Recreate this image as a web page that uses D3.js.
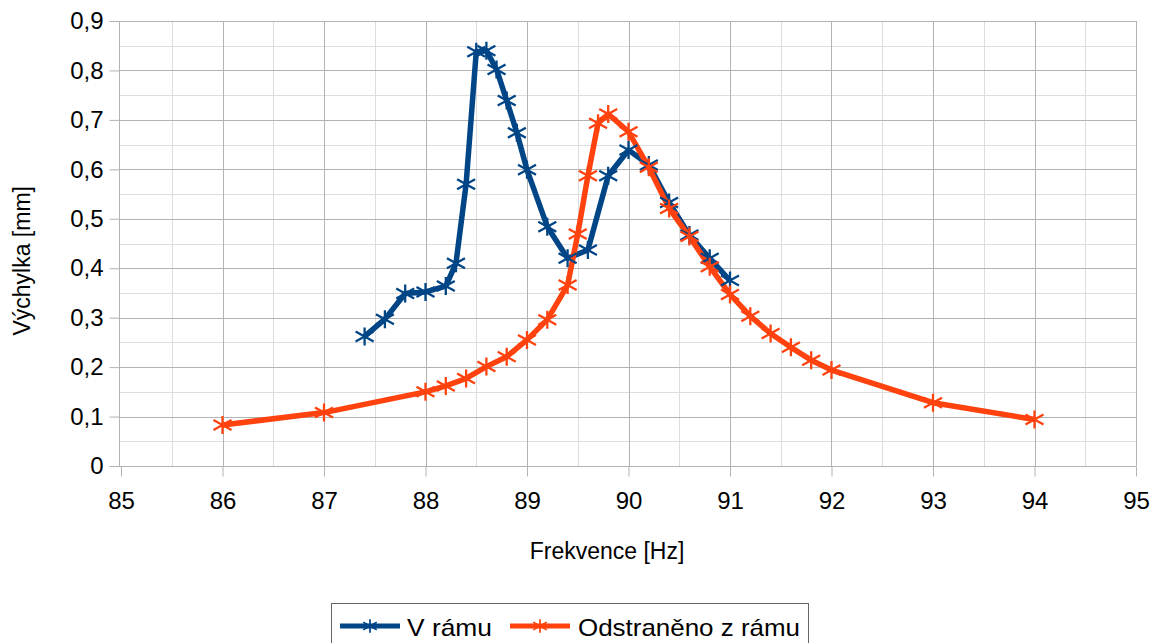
<!DOCTYPE html>
<html>
<head>
<meta charset="utf-8">
<script src="https://d3js.org/d3.v7.min.js"></script>
<style>
body { margin: 0; background: #fff; }
svg text { font-family: "Liberation Sans", Arial, sans-serif; fill: #000; }
</style>
</head>
<body>
<div id="chart"></div>
<script>
// V rámu
var frameX = [87.4, 87.6, 87.8, 88, 88.2, 88.3, 88.4, 88.5, 88.6, 88.7, 88.8, 88.9, 89, 89.2, 89.4, 89.6, 89.8, 90, 90.2, 90.4, 90.6, 90.8, 91];
var frameY = [0.262, 0.297, 0.349, 0.352, 0.364, 0.41, 0.57, 0.838, 0.84, 0.802, 0.739, 0.674, 0.599, 0.484, 0.42, 0.437, 0.587, 0.639, 0.609, 0.533, 0.467, 0.42, 0.375];
// Odstraněno z rámu
var freeX = [86, 87, 88, 88.2, 88.4, 88.6, 88.8, 89, 89.2, 89.4, 89.5, 89.6, 89.7, 89.8, 90, 90.2, 90.4, 90.6, 90.8, 91, 91.2, 91.4, 91.6, 91.8, 92, 93, 94];
var freeY = [0.083, 0.108, 0.150, 0.162, 0.177, 0.201, 0.221, 0.255, 0.296, 0.366, 0.469, 0.587, 0.693, 0.712, 0.676, 0.604, 0.521, 0.464, 0.403, 0.347, 0.303, 0.268, 0.240, 0.214, 0.194, 0.128, 0.094];

var seriesNames = ["V rámu", "Odstraněno z rámu"];
var seriesColors = ["#004586", "#ff420e"];

var W = 1154, H = 643;
var pL = 119, pR = 1136, pT = 21, pB = 466;

var svg = d3.select("#chart").append("svg").attr("width", W).attr("height", H);

var x = d3.scaleLinear().domain([85, 95]).range([pL + 2, pR]);
var y = d3.scaleLinear().domain([0, 0.9]).range([pB, pT]);

// minor grid
var g = svg.append("g");
g.selectAll("line.mx").data(d3.range(85.5, 95, 1)).enter().append("line")
  .attr("x1", d => Math.round(x(d)) + 0.5).attr("x2", d => Math.round(x(d)) + 0.5).attr("y1", pT).attr("y2", pB)
  .attr("stroke", "#dddddd").attr("stroke-width", 1);
g.selectAll("line.my").data(d3.range(0.05, 0.9, 0.1)).enter().append("line")
  .attr("x1", pL).attr("x2", pR).attr("y1", d => Math.round(y(d)) + 0.5).attr("y2", d => Math.round(y(d)) + 0.5)
  .attr("stroke", "#dddddd").attr("stroke-width", 1);
// major grid
g.selectAll("line.Mx").data(d3.range(86, 95.5, 1)).enter().append("line")
  .attr("x1", d => Math.round(x(d)) + 0.5).attr("x2", d => Math.round(x(d)) + 0.5).attr("y1", pT).attr("y2", pB)
  .attr("stroke", "#b3b3b3").attr("stroke-width", 1);
g.selectAll("line.My").data(d3.range(1, 10).map(d => d / 10)).enter().append("line")
  .attr("x1", pL).attr("x2", pR).attr("y1", d => Math.round(y(d)) + 0.5).attr("y2", d => Math.round(y(d)) + 0.5)
  .attr("stroke", "#b3b3b3").attr("stroke-width", 1);

// axes
var fmt = d => d3.format(".1f")(d).replace(".", ",");
var yAxis = d3.axisLeft(y).tickValues(d3.range(0, 10).map(d => d / 10)).tickSize(10).tickPadding(6)
  .tickFormat(d => d === 0 ? "0" : fmt(d));
var xAxis = d3.axisBottom(x).tickValues(d3.range(85, 96)).tickSize(10).tickPadding(15).tickFormat(d3.format("d"));

var ya = svg.append("g").attr("transform", "translate(" + (pL + 0.5) + ",0)").call(yAxis);
var xa = svg.append("g").attr("transform", "translate(0," + (pB + 0.5) + ")").call(xAxis);
[ya, xa].forEach(function (a) {
  a.select(".domain").attr("stroke", "#b3b3b3");
  a.selectAll(".tick line").attr("stroke", "#b3b3b3");
  a.selectAll(".tick text").attr("font-size", 24).attr("font-family", "Liberation Sans, Arial, sans-serif");
});
ya.select(".domain").attr("d", "M0," + pT + "V" + pB);
xa.select(".domain").attr("d", "M" + (pL - 0.5) + ",0H" + pR);

svg.append("text").attr("x", 607).attr("y", 559).attr("text-anchor", "middle")
  .attr("font-size", 23).text("Frekvence [Hz]");
svg.append("text").attr("transform", "translate(30," + y(0.415) + ") rotate(-90)").attr("text-anchor", "middle")
  .attr("font-size", 23).text("Výchylka [mm]");

// series
function star(sel, color) {
  sel.append("path")
    .attr("d", "M0,-9V9M-9,-5L9,5M-9,5L9,-5")
    .attr("stroke", color).attr("stroke-width", 2.3).attr("fill", "none");
}
var line = d3.line().x(d => x(d[0])).y(d => y(d[1]));
var series = [d3.zip(frameX, frameY), d3.zip(freeX, freeY)];
series.forEach(function (pts, i) {
  svg.append("path").datum(pts).attr("d", line)
    .attr("fill", "none").attr("stroke", seriesColors[i]).attr("stroke-width", 5.5)
    .attr("stroke-linejoin", "round");
});
series.forEach(function (pts, i) {
  svg.append("g").selectAll("g").data(pts).enter().append("g")
    .attr("transform", d => "translate(" + x(d[0]) + "," + y(d[1]) + ")")
    .each(function () { star(d3.select(this), seriesColors[i]); });
});

// legend
var lg = svg.append("g");
lg.append("rect").attr("x", 331.5).attr("y", 603.5).attr("width", 477).attr("height", 50)
  .attr("fill", "#fff").attr("stroke", "#666");
var legX = [340, 510], textX = [407, 578];
seriesNames.forEach(function (n, i) {
  lg.append("line").attr("x1", legX[i]).attr("x2", legX[i] + 60).attr("y1", 626).attr("y2", 626)
    .attr("stroke", seriesColors[i]).attr("stroke-width", 5);
  var m = lg.append("g").attr("transform", "translate(" + (legX[i] + 30) + ",626) scale(0.75)");
  star(m, seriesColors[i]);
  lg.append("text").attr("x", textX[i]).attr("y", 636).attr("font-size", 24)
    .attr("textLength", i === 0 ? 85 : 222).attr("lengthAdjust", "spacingAndGlyphs").text(n);
});
</script>
</body>
</html>
